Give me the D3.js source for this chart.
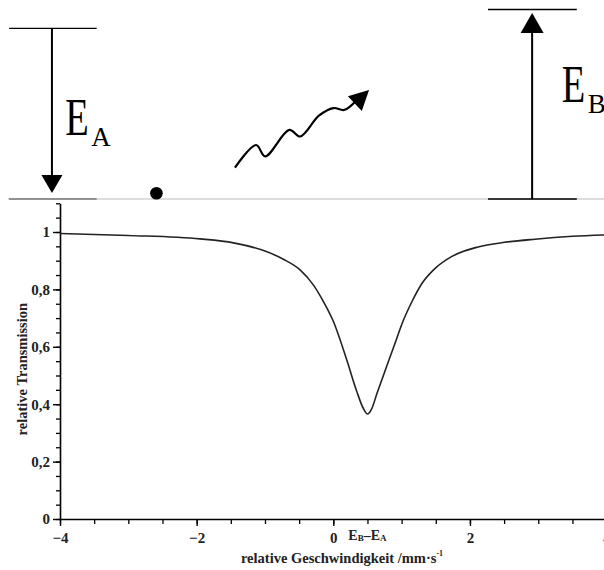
<!DOCTYPE html>
<html>
<head>
<meta charset="utf-8">
<script src="https://cdn.jsdelivr.net/npm/d3@7"></script>
<style>
  html, body { margin: 0; padding: 0; background: #fff; }
  svg { display: block; }
</style>
</head>
<body>
<svg id="chart" width="604" height="570"></svg>
<script>
// transmission curve
const velocity = [-4.0, -3.0, -1.95, -1.46, -0.98, -0.73, -0.49, -0.29, -0.15, 0.0, 0.20, 0.34, 0.44, 0.50, 0.56, 0.64, 0.78, 0.93, 1.00, 1.15, 1.29, 1.49, 1.73, 2.12, 2.51, 2.95, 3.5, 4.0];
const transmission = [0.995, 0.988, 0.976, 0.962, 0.932, 0.905, 0.869, 0.815, 0.760, 0.689, 0.552, 0.447, 0.385, 0.366, 0.383, 0.438, 0.531, 0.630, 0.677, 0.757, 0.818, 0.873, 0.914, 0.948, 0.964, 0.975, 0.985, 0.990];

const xTicks = [-4, -2, 0, 2, 4];
const xTickLabels = ["\u22124", "\u22122", "0", "2", "4"];
const yTicks = [0, 0.2, 0.4, 0.6, 0.8, 1];
const yTickLabels = ["0", "0,2", "0,4", "0,6", "0,8", "1"];
const resonance = 0.5; // E_B - E_A position

// level scheme: relative energies (ground = 0)
const levelNames = ["A", "B"];
const levelEnergy = [0.90, 1.0];

const svg = d3.select("#chart");
const width = 604, height = 570;
const serif = "'Liberation Serif', 'DejaVu Serif', serif";

svg.append("rect").attr("width", width).attr("height", height).attr("fill", "#fff");

// ---------- SCHEME (top) ----------
const sx = d3.scaleLinear().domain([0, 100]).range([0, 604]);
const sy = d3.scaleLinear().domain([0, 1]).range([199, 9.5]);

const scheme = svg.append("g");

// ground line across
scheme.append("line")
    .attr("x1", sx(1.3)).attr("x2", sx(100))
    .attr("y1", sy(0)).attr("y2", sy(0))
    .attr("stroke", "#bbb").attr("stroke-width", 1.2);

// left: emitter A, right: absorber B
const levelX = [[1.5, 16], [80.8, 95.5]];
const arrowX = [8.6, 88.1];

levelEnergy.forEach((e, i) => {
    const [a, b] = levelX[i];
    scheme.append("line")
        .attr("x1", sx(a)).attr("x2", sx(b))
        .attr("y1", sy(e)).attr("y2", sy(e))
        .attr("stroke", "#000").attr("stroke-width", 1.3);
    scheme.append("line")
        .attr("x1", sx(a)).attr("x2", sx(b))
        .attr("y1", sy(0)).attr("y2", sy(0))
        .attr("stroke", i === 0 ? "#777" : "#000").attr("stroke-width", 1.3);
});

// arrows: down for A (emission), up for B (absorption)
function arrow(x, y0, y1, w, h) {
    const dir = y1 > y0 ? 1 : -1;
    scheme.append("line")
        .attr("x1", x).attr("x2", x)
        .attr("y1", y0).attr("y2", y1 - dir * h)
        .attr("stroke", "#000").attr("stroke-width", 2);
    scheme.append("path")
        .attr("d", `M${x - w / 2},${y1 - dir * h} L${x + w / 2},${y1 - dir * h} L${x},${y1} Z`)
        .attr("fill", "#000");
}
arrow(sx(arrowX[0]), sy(levelEnergy[0]), 193, 21, 18);
arrow(sx(arrowX[1]), sy(0), 13, 23, 20);

// labels E_A, E_B (the big E is narrow in the original)
const labelPos = [[10.8, 0.34], [93.0, 0.51]];
levelNames.forEach((n, i) => {
    const lx = sx(labelPos[i][0]), ly = sy(labelPos[i][1]);
    scheme.append("text")
        .attr("transform", `translate(${lx},${ly}) scale(0.74,1)`)
        .attr("font-family", serif).attr("font-size", 52).attr("fill", "#000")
        .text("E");
    scheme.append("text")
        .attr("x", lx + 26).attr("y", ly + 11)
        .attr("font-family", serif).attr("font-size", 27).attr("fill", "#000")
        .text(n);
});

// the atom
scheme.append("circle")
    .attr("cx", sx(25.9)).attr("cy", sy(0.03))
    .attr("r", 6.3).attr("fill", "#000");

// the gamma photon
const waveX = [38.9, 42.4, 43.9, 47.9, 49.7, 52.8, 55.2, 57.0, 59.0];
const waveY = [0.165, 0.285, 0.225, 0.365, 0.33, 0.44, 0.48, 0.47, 0.52];
scheme.append("path")
    .datum(waveX.map((d, i) => [sx(d), sy(waveY[i])]))
    .attr("fill", "none").attr("stroke", "#000").attr("stroke-width", 2.2)
    .attr("d", d3.line().curve(d3.curveCatmullRom));
scheme.append("path")
    .attr("d", `M${sx(57.6)},${sy(0.542)} L${sx(61.1)},${sy(0.575)} L${sx(59.9)},${sy(0.465)} Z`)
    .attr("fill", "#000");

// ---------- SPECTRUM (bottom) ----------
const x = d3.scaleLinear().domain([-4, 4]).range([60, 606.6]);
const y = d3.scaleLinear().domain([0, 1.1]).range([519, 203.3]);

const g = svg.append("g");

// minor ticks
g.append("g")
    .attr("transform", `translate(0,${y(0)})`)
    .call(d3.axisBottom(x).tickValues(d3.range(-4, 4.01, 0.5)).tickSize(5).tickFormat("").tickSizeOuter(0))
    .call(a => a.select(".domain").remove())
    .call(a => a.selectAll("line").attr("stroke-width", 1.3));
g.append("g")
    .attr("transform", `translate(${x(-4)},0)`)
    .call(d3.axisLeft(y).tickValues(d3.range(0, 1.101, 0.05)).tickSize(4).tickFormat("").tickSizeOuter(0))
    .call(a => a.select(".domain").remove())
    .call(a => a.selectAll("line").attr("stroke-width", 1.3));

// major ticks + labels
g.append("g")
    .attr("transform", `translate(0,${y(0)})`)
    .call(d3.axisBottom(x).tickValues(xTicks).tickSize(7).tickPadding(6)
        .tickFormat((d, i) => xTickLabels[i]).tickSizeOuter(0))
    .call(a => a.select(".domain").attr("stroke-width", 1.6))
    .call(a => a.selectAll("line").attr("stroke-width", 1.4))
    .call(a => a.selectAll("text")
        .attr("font-family", serif).attr("font-size", 15).attr("font-weight", "bold").attr("fill", "#222"));

g.append("g")
    .attr("transform", `translate(${x(-4)},0)`)
    .call(d3.axisLeft(y).tickValues(yTicks).tickSize(7).tickPadding(3)
        .tickFormat((d, i) => yTickLabels[i]).tickSizeOuter(0))
    .call(a => a.select(".domain").attr("stroke-width", 1.6))
    .call(a => a.selectAll("line").attr("stroke-width", 1.4))
    .call(a => a.selectAll("text")
        .attr("font-family", serif).attr("font-size", 15).attr("font-weight", "bold").attr("fill", "#222"));

// curve
g.append("path")
    .datum(velocity.map((v, i) => [v, transmission[i]]))
    .attr("fill", "none")
    .attr("stroke", "#222")
    .attr("stroke-width", 1.6)
    .attr("d", d3.line().x(d => x(d[0])).y(d => y(d[1])).curve(d3.curveMonotoneX));

// E_B - E_A mark
const eb = g.append("text")
    .attr("x", x(resonance)).attr("y", 540)
    .attr("text-anchor", "middle")
    .attr("font-family", serif).attr("font-size", 14).attr("font-weight", "bold").attr("fill", "#222");
eb.append("tspan").text("E");
eb.append("tspan").attr("font-size", 9).attr("dy", 1).text("B");
eb.append("tspan").attr("dy", -1).text("\u2013E");
eb.append("tspan").attr("font-size", 9).attr("dy", 1).text("A");

// axis titles
g.append("text")
    .attr("transform", `translate(27,${(y(0) + y(1.1)) / 2 + 8}) rotate(-90)`)
    .attr("text-anchor", "middle")
    .attr("font-family", serif).attr("font-size", 14.5).attr("font-weight", "bold").attr("fill", "#222")
    .text("relative Transmission");

const xt = g.append("text")
    .attr("x", 342).attr("y", 563)
    .attr("text-anchor", "middle")
    .attr("font-family", serif).attr("font-size", 14.5).attr("font-weight", "bold").attr("fill", "#222");
xt.append("tspan").text("relative Geschwindigkeit /mm\u00b7s");
xt.append("tspan").attr("font-size", 8).attr("dy", -7).text("-1");
</script>
</body>
</html>
